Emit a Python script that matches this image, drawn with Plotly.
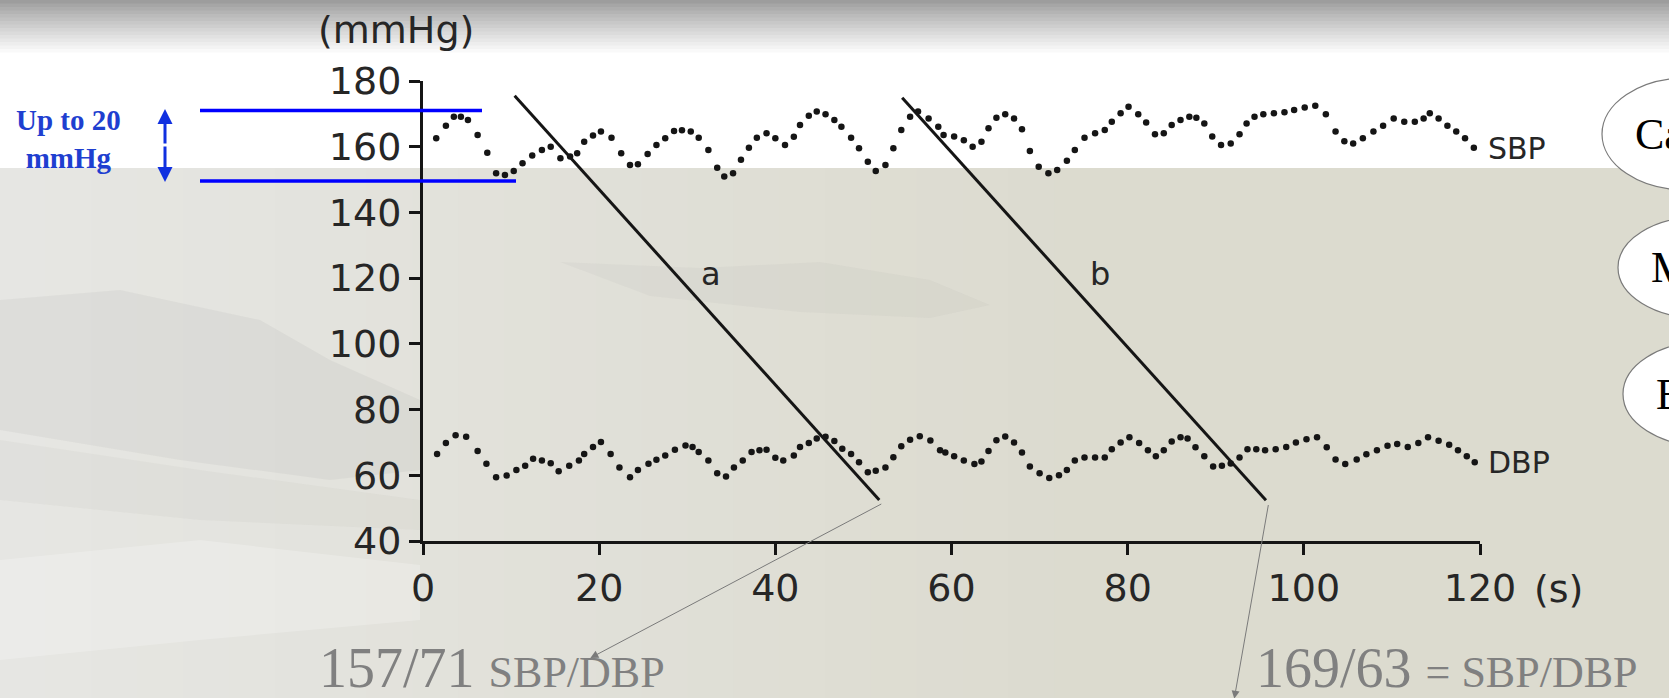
import plotly.graph_objects as go

# ---------------- data ----------------
sbp_time = [1.5, 2.6, 3.5, 4.3, 5.1, 6.2, 7.3, 8.3, 9.3, 10.3, 11.3, 12.4, 13.5, 14.5, 15.6,
            16.7, 17.5, 18.3, 19.3, 20.2, 21.4, 22.5, 23.5, 24.4, 25.5, 26.5, 27.5, 28.5, 29.4,
            30.4, 31.3, 32.4, 33.4, 34.2, 35.2, 36.1, 37.0, 37.9, 39.0, 40.0, 41.1, 42.1, 42.8,
            43.8, 44.7, 45.7, 46.7, 47.5, 48.6, 49.5, 50.5, 51.4, 52.5, 53.4, 54.3, 55.3, 56.2,
            57.4, 58.5, 59.1, 60.3, 61.4, 62.4, 63.4, 64.2, 65.1, 66.1, 67.1, 68.0, 68.9, 69.9,
            71.0, 72.0, 73.1, 74.0, 75.1, 76.3, 77.4, 78.2, 79.2, 80.1, 81.2, 82.1, 83.1, 84.1,
            85.0, 86.0, 87.0, 87.8, 88.7, 89.6, 90.6, 91.7, 92.7, 93.5, 94.4, 95.4, 96.6, 97.8,
            98.9, 100.1, 101.3, 102.5, 103.6, 104.6, 105.6, 106.7, 107.9, 109.0, 110.2, 111.4,
            112.6, 113.6, 114.3, 115.3, 116.3, 117.3, 118.3, 119.3]
sbp_mmHg = [162.6, 166.4, 169.1, 169.1, 168.1, 163.6, 158.2, 151.9, 151.4, 152.6, 155.0, 157.3,
            159.0, 160.0, 156.5, 157.0, 158.0, 161.5, 163.4, 164.6, 162.7, 158.0, 154.4, 154.7,
            157.8, 160.5, 162.6, 164.8, 165.0, 164.6, 162.7, 159.0, 153.6, 150.9, 151.9, 156.0,
            159.7, 162.7, 164.1, 162.6, 160.5, 163.0, 166.6, 169.4, 170.7, 169.9, 168.1, 166.1,
            162.7, 159.5, 155.4, 152.6, 154.4, 159.5, 165.1, 169.1, 170.7, 168.6, 166.1, 163.6,
            163.1, 162.0, 160.0, 161.5, 165.6, 168.8, 169.9, 168.6, 165.3, 158.7, 153.9, 151.9,
            152.9, 155.7, 159.0, 162.7, 164.1, 165.1, 167.6, 170.2, 172.2, 169.9, 167.4, 163.8,
            164.1, 166.6, 168.1, 169.1, 168.8, 167.1, 163.1, 160.5, 161.0, 163.8, 167.1, 169.1,
            169.9, 170.2, 170.5, 171.2, 171.9, 172.5, 169.9, 164.6, 161.7, 161.0, 162.6, 164.6,
            166.4, 168.6, 167.6, 167.6, 168.6, 170.2, 168.6, 166.4, 164.6, 162.6, 159.7]

dbp_time = [1.6, 2.6, 3.7, 4.9, 6.2, 7.2, 8.3, 9.5, 10.6, 11.6, 12.5, 13.5, 14.5, 15.4, 16.6,
            17.7, 18.3, 19.3, 20.2, 21.3, 22.3, 23.5, 24.4, 25.6, 26.5, 27.5, 28.6, 29.8, 30.6,
            31.3, 32.4, 33.4, 34.4, 35.3, 36.3, 37.3, 38.2, 39.0, 40.0, 40.9, 42.1, 42.8, 43.8,
            44.7, 45.7, 46.7, 47.6, 48.6, 49.5, 50.5, 51.4, 52.5, 53.4, 54.3, 55.3, 56.4, 57.6,
            58.7, 59.3, 60.3, 61.4, 62.6, 63.4, 64.2, 65.1, 66.1, 67.1, 68.0, 68.9, 70.0, 71.1,
            72.2, 73.1, 74.0, 75.1, 76.3, 77.4, 78.2, 79.2, 80.2, 81.3, 82.3, 83.2, 84.1, 85.0,
            86.0, 86.8, 87.7, 88.7, 89.7, 90.7, 91.7, 92.7, 93.6, 94.6, 95.6, 96.8, 98.0, 99.1,
            100.3, 101.5, 102.6, 103.6, 104.7, 106.0, 107.1, 108.3, 109.5, 110.6, 111.8, 113.0,
            114.1, 115.3, 116.5, 117.5, 118.5, 119.4]
dbp_mmHg = [66.5, 69.8, 72.2, 71.7, 67.4, 63.5, 59.4, 59.9, 61.6, 62.9, 65.0, 64.5, 63.7, 61.2,
            62.9, 64.5, 66.5, 68.6, 70.1, 66.5, 62.4, 59.4, 61.6, 63.5, 64.7, 66.0, 67.8, 69.1,
            68.6, 67.1, 64.5, 60.6, 59.6, 62.4, 64.5, 67.1, 67.6, 67.8, 65.3, 64.5, 66.0, 68.6,
            69.8, 71.2, 71.7, 70.4, 68.1, 66.5, 64.0, 60.9, 61.4, 62.4, 65.5, 68.8, 70.8, 71.9,
            70.6, 67.6, 66.9, 65.8, 64.5, 63.4, 64.2, 67.4, 70.7, 71.8, 70.0, 66.9, 62.7, 60.6,
            59.2, 60.0, 61.6, 64.5, 65.4, 65.4, 65.4, 67.9, 70.0, 71.6, 69.8, 67.6, 65.8, 67.6,
            70.3, 71.6, 71.2, 68.5, 65.8, 62.7, 62.9, 63.6, 65.4, 67.9, 67.9, 67.6, 67.9, 68.6,
            70.0, 71.0, 71.6, 68.5, 64.8, 63.4, 64.8, 66.4, 67.6, 69.0, 69.5, 68.6, 69.8, 71.6,
            70.5, 69.3, 67.6, 65.8, 64.0]

line_a_time = [10.4, 51.8]
line_a_mmHg = [175.5, 52.5]
line_b_time = [54.4, 95.7]
line_b_mmHg = [174.9, 52.4]

band_mmHg = [171.0, 149.6]          # "Up to 20 mmHg" guide levels
x_ticks = [0, 20, 40, 60, 80, 100, 120]
y_ticks = [40, 60, 80, 100, 120, 140, 160, 180]
reading_a = "157/71"
reading_b = "169/63"
side_labels = ["Ca", "M", "E"]

# ---------------- geometry helpers ----------------
W, H = 1669, 698
ML, MR, MT, MB = 423, 189, 81, 157
PW = W - ML - MR
PH = H - MT - MB


def px(x):
    return (x - ML) / PW


def py(y):
    return (H - MB - y) / PH


def hexmix(c1, c2, t):
    a = [int(c1[i:i + 2], 16) for i in (1, 3, 5)]
    b = [int(c2[i:i + 2], 16) for i in (1, 3, 5)]
    return "#" + "".join(f"{round(a[k] + (b[k] - a[k]) * t):02x}" for k in range(3))


INK = "#151515"
TXT = "#262626"
fig = go.Figure()

fig.add_trace(go.Scatter(x=sbp_time, y=sbp_mmHg, mode="markers",
                         marker=dict(size=6.5, color=INK), showlegend=False, cliponaxis=False))
fig.add_trace(go.Scatter(x=dbp_time, y=dbp_mmHg, mode="markers",
                         marker=dict(size=6.5, color=INK), showlegend=False, cliponaxis=False))
fig.add_trace(go.Scatter(x=line_a_time, y=line_a_mmHg, mode="lines",
                         line=dict(color=INK, width=3), showlegend=False, cliponaxis=False))
fig.add_trace(go.Scatter(x=line_b_time, y=line_b_mmHg, mode="lines",
                         line=dict(color=INK, width=3), showlegend=False, cliponaxis=False))

shapes = []
# slide background: left light-grey to right beige
n = 24
for i in range(n):
    x0 = i * 1100 / n
    x1 = (i + 1) * 1100 / n + 1
    c = hexmix("#e6e6e3", "#dcdbcf", i / (n - 1))
    shapes.append(dict(type="rect", xref="paper", yref="paper", layer="below",
                       x0=px(x0), x1=px(x1), y0=py(H + 5), y1=py(166),
                       fillcolor=c, line=dict(width=0)))
# soft grey blobs in the background picture
blobs = [
    ("M 0 300 L 120 290 L 260 320 L 330 360 L 420 400 L 420 470 L 330 480 L 180 460 L 60 440 L 0 430 Z",
     "rgba(150,150,145,0.10)"),
    ("M 0 440 L 200 470 L 420 500 L 420 530 L 200 520 L 0 500 Z", "rgba(150,150,145,0.07)"),
    ("M 560 262 L 700 268 L 820 262 L 930 280 L 990 305 L 930 318 L 800 312 L 650 296 Z",
     "rgba(140,140,130,0.06)"),
    ("M 0 560 L 200 540 L 420 565 L 420 620 L 200 640 L 0 660 Z", "rgba(255,255,255,0.22)"),
]
for path, col in blobs:
    pts = path.split()
    conv = []
    k = 0
    while k < len(pts):
        tok = pts[k]
        if tok in ("M", "L"):
            conv.append(f"{tok} {px(float(pts[k + 1])):.5f},{py(float(pts[k + 2])):.5f}")
            k += 3
        else:
            conv.append(tok)
            k += 1
    shapes.append(dict(type="path", xref="paper", yref="paper", layer="below",
                       path=" ".join(conv), fillcolor=col, line=dict(width=0)))
# white title band and top grey gradient
shapes.append(dict(type="rect", xref="paper", yref="paper", layer="below",
                   x0=px(-5), x1=px(W + 5), y0=py(168), y1=py(40),
                   fillcolor="#ffffff", line=dict(width=0)))
m = 16
for i in range(m):
    y0 = i * 56 / m
    y1 = (i + 1) * 56 / m + 0.6
    c = hexmix("#9d9d9d", "#ffffff", (i / (m - 1)) ** 0.9)
    shapes.append(dict(type="rect", xref="paper", yref="paper", layer="below",
                       x0=px(-5), x1=px(W + 5), y0=py(y1), y1=py(y0 - (1 if i == 0 else 0)),
                       fillcolor=c, line=dict(width=0)))

# blue "up to 20 mmHg" guides
shapes.append(dict(type="line", xref="paper", yref="y", x0=px(200), x1=px(482),
                   y0=band_mmHg[0], y1=band_mmHg[0], line=dict(color="#0000ff", width=3.5)))
shapes.append(dict(type="line", xref="paper", yref="y", x0=px(200), x1=px(516),
                   y0=band_mmHg[1], y1=band_mmHg[1], line=dict(color="#0000ff", width=3.5)))

# right-hand ovals (cut by the slide edge)
ovals = [(1602, 78, 1770, 190), (1618, 217, 1780, 318), (1623, 342, 1785, 446)]
for (x0, y0, x1, y1) in ovals:
    shapes.append(dict(type="circle", xref="paper", yref="paper",
                       x0=px(x0), x1=px(x1), y0=py(y1), y1=py(y0),
                       fillcolor="#ffffff", line=dict(color="#7a7a7a", width=1.2)))

annotations = []
SANS = "DejaVu Sans, Arial, Helvetica, sans-serif"
SERIF = "Liberation Serif, Times New Roman, serif"


def label(x, y, text, size, family=SANS, color=TXT, xanchor="center"):
    return dict(xref="paper", yref="paper", x=px(x), y=py(y), text=text, showarrow=False,
                xanchor=xanchor, yanchor="middle", font=dict(family=family, size=size, color=color))


annotations.append(label(396, 30, "(mmHg)", 38))
annotations.append(label(1558, 589, "(s)", 38))
annotations.append(label(1486, 148, "SBP", 30, xanchor="left"))
annotations.append(label(1486, 462, "DBP", 30, xanchor="left"))
annotations.append(label(711, 274, "a", 32))
annotations.append(label(1100, 274, "b", 32))

# blue double arrow + label
annotations.append(dict(xref="paper", yref="paper", x=px(165), y=py(109), ax=0, ay=36,
                        text="", showarrow=True, arrowhead=2, arrowsize=1, arrowwidth=3,
                        arrowcolor="#1030e0"))
annotations.append(dict(xref="paper", yref="paper", x=px(165), y=py(182), ax=0, ay=-37,
                        text="", showarrow=True, arrowhead=2, arrowsize=1, arrowwidth=3,
                        arrowcolor="#1030e0"))
annotations.append(label(68, 139, "<b>Up to 20</b><br><b>mmHg</b>", 29, family=SERIF,
                         color="#1f3fd0"))

# grey pointer arrows to the readings
annotations.append(dict(xref="x", yref="y", axref="x", ayref="y",
                        x=19.0, y=4.4, ax=line_a_time[-1] + 0.4, ay=line_a_mmHg[-1] - 1.0,
                        text="", showarrow=True, arrowhead=2, arrowsize=1.6, arrowwidth=1,
                        arrowcolor="#7a7a7a"))
annotations.append(dict(xref="x", yref="y", axref="x", ayref="y",
                        x=92.1, y=-8.0, ax=line_b_time[-1] + 0.3, ay=line_b_mmHg[-1] - 1.0,
                        text="", showarrow=True, arrowhead=2, arrowsize=1.6, arrowwidth=1,
                        arrowcolor="#7a7a7a"))

annotations.append(label(317, 668, reading_a + " <span style='font-size:44px'>SBP/DBP</span>",
                         56, family=SERIF, color="#808080", xanchor="left"))
annotations.append(label(1254, 668, reading_b + " <span style='font-size:44px'>= SBP/DBP</span>",
                         56, family=SERIF, color="#808080", xanchor="left"))

# oval texts
for (x0, y0, x1, y1), lab in zip(ovals, side_labels):
    annotations.append(label(x0 + 31, (y0 + y1) / 2, lab, 44, family=SERIF, color="#000000",
                             xanchor="left"))

axis_common = dict(showline=True, linecolor=INK, linewidth=3, ticks="outside", ticklen=11,
                   tickwidth=2.5, tickcolor=INK, showgrid=False, zeroline=False,
                   tickfont=dict(family=SANS, size=38, color=TXT), fixedrange=True)

fig.update_layout(
    width=W, height=H,
    margin=dict(l=ML, r=MR, t=MT, b=MB, pad=0),
    paper_bgcolor="#dcdbcf",
    plot_bgcolor="rgba(0,0,0,0)",
    xaxis=dict(range=[0, 120], tickvals=x_ticks, **axis_common),
    yaxis=dict(range=[40, 180], tickvals=y_ticks, **axis_common),
    shapes=shapes,
    annotations=annotations,
    showlegend=False,
)

fig.write_html("out.html", config={"displayModeBar": False},
               post_script="document.body.style.margin='0';document.body.style.overflow='hidden';")
